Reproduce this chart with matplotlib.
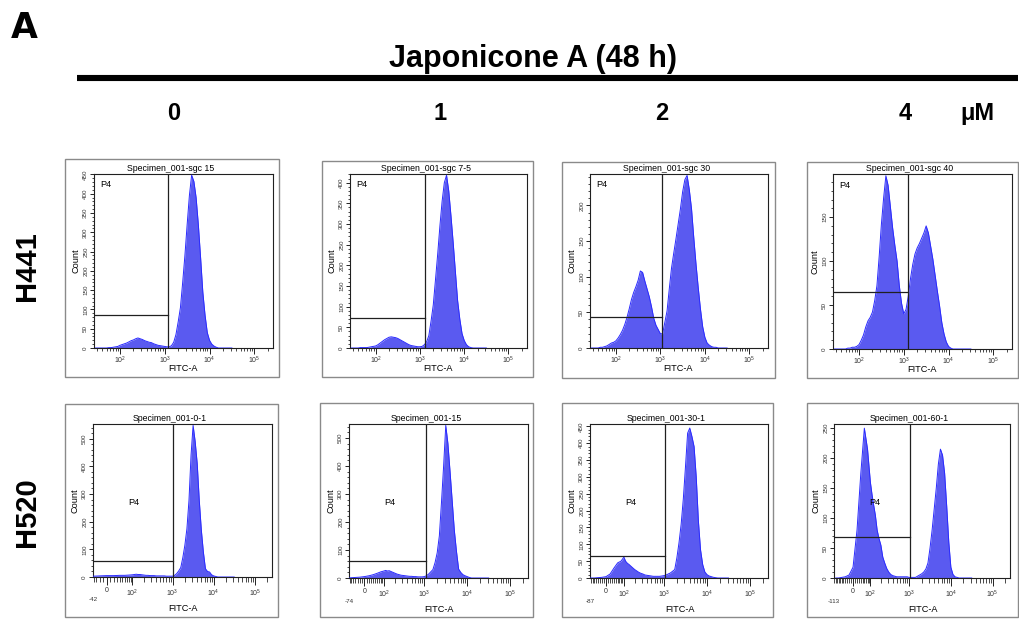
import numpy as np
import matplotlib
matplotlib.use('Agg')
import matplotlib.pyplot as plt
from matplotlib.patches import Rectangle
from matplotlib.lines import Line2D
from matplotlib.ticker import FixedLocator, FixedFormatter, NullFormatter
import matplotlib.transforms as mtransforms

plt.rcParams['font.family'] = ['Liberation Sans', 'DejaVu Sans']
plt.rcParams['mathtext.fontset'] = 'custom'
plt.rcParams['mathtext.rm'] = 'Liberation Sans'
plt.rcParams['mathtext.it'] = 'Liberation Sans'

# ---------------- data ----------------
CONCENTRATIONS = ['0', '1', '2', '4']
CELL_LINES = ['H441', 'H520']
SPECIMENS_H441 = ['Specimen_001-sgc 15', 'Specimen_001-sgc 7-5',
                  'Specimen_001-sgc 30', 'Specimen_001-sgc 40']
SPECIMENS_H520 = ['Specimen_001-0-1', 'Specimen_001-15',
                  'Specimen_001-30-1', 'Specimen_001-60-1']

# channel centres (log10 FITC-A) for the H441 histograms, 1.45 ... 4.50
LOG_BINS_H441 = np.round(np.arange(1.45, 4.501, 0.05), 2)
# channel centres (FITC-A) for the H520 histograms (biexponential display)
FITC_BINS_H520 = [-100, -80, -60, -40, -20, 0, 20, 40, 60, 80] + \
    list(10 ** np.round(np.arange(2.0, 4.501, 0.05), 2))

H441_0 = [0, 0, 0, 0, 0, 0, 1, 1, 2, 3,
          4, 7, 9, 11, 13, 16, 19, 21, 24, 26,
          24, 22, 19, 17, 15, 14, 11, 9, 7, 6,
          5, 4, 3, 3, 6, 15, 35, 68, 105, 170,
          240, 320, 395, 448, 432, 390, 320, 235, 145, 85,
          40, 20, 10, 5, 2, 0, 0, 0, 0, 0, 0, 0]
H441_1 = [0, 0, 0, 0, 1, 1, 1, 1, 2, 3,
          4, 5, 8, 12, 16, 20, 23, 26, 27, 26,
          25, 23, 20, 17, 14, 11, 8, 6, 5, 4,
          3, 3, 4, 8, 15, 30, 65, 104, 165, 227,
          295, 355, 400, 418, 380, 320, 255, 185, 115, 70,
          35, 18, 8, 3, 1, 0, 0, 0, 0, 0, 0, 0]
H441_2 = [0, 0, 0, 0, 1, 1, 2, 3, 5, 7,
          8, 10, 14, 19, 25, 33, 43, 55, 68, 78,
          86, 95, 108, 106, 94, 83, 72, 58, 42, 32,
          26, 20, 20, 36, 52, 83, 112, 133, 153, 174,
          195, 219, 236, 242, 222, 195, 155, 118, 85, 55,
          30, 15, 7, 4, 2, 1, 1, 0, 0, 0, 0, 0]
H441_4 = [0, 0, 0, 0, 0, 0, 1, 1, 2, 2,
          3, 5, 10, 16, 25, 32, 36, 42, 55, 72,
          105, 142, 172, 197, 186, 162, 138, 118, 100, 72,
          52, 40, 45, 60, 80, 96, 108, 115, 120, 126,
          132, 140, 132, 117, 102, 84, 66, 49, 30, 17,
          8, 3, 1, 0, 0, 0, 0, 0, 0, 0, 0, 0]

H520_0 = [0, 0, 2, 3, 4, 5, 5, 6, 6, 7,
          8, 9, 10, 9, 9, 8, 7, 6, 6, 5,
          5, 5, 4, 4, 4, 4, 4, 3, 3, 3,
          3, 6, 12, 22, 34, 70, 115, 175, 277, 440,
          548, 490, 410, 277, 170, 90, 30, 20, 18, 8,
          4, 2, 0, 0, 0, 0, 0, 0, 0, 0, 0]
H520_1 = [0, 0, 1, 2, 3, 5, 8, 12, 17, 22,
          25, 27, 25, 26, 23, 20, 17, 14, 12, 10,
          9, 8, 7, 6, 6, 5, 5, 4, 4, 4,
          5, 8, 14, 22, 30, 55, 90, 150, 270, 400,
          545, 480, 380, 275, 170, 95, 32, 20, 12, 8,
          5, 2, 0, 0, 0, 0, 0, 0, 0, 0, 0]
H520_2 = [0, 0, 0, 1, 2, 4, 12, 30, 45, 50,
          62, 50, 44, 40, 35, 30, 25, 21, 17, 14,
          12, 9, 8, 7, 6, 5, 5, 5, 5, 6,
          7, 9, 12, 15, 20, 25, 60, 105, 160, 235,
          330, 430, 445, 420, 390, 300, 170, 84, 40, 18,
          10, 6, 4, 2, 1, 0, 0, 0, 0, 0, 0]
H520_4 = [0, 0, 1, 2, 5, 18, 80, 175, 250, 215,
          160, 140, 122, 105, 80, 66, 55, 35, 25, 16,
          10, 6, 4, 3, 2, 2, 2, 2, 2, 2,
          1, 1, 1, 1, 3, 5, 7, 10, 15, 25,
          50, 80, 115, 150, 190, 215, 205, 175, 120, 60,
          18, 6, 2, 1, 0, 0, 0, 0, 0, 0, 0]

H441_COUNTS = [H441_0, H441_1, H441_2, H441_4]
H520_COUNTS = [H520_0, H520_1, H520_2, H520_4]

H441_YMAX = [451, 421, 244, 199]
H441_YSTEP = [50, 50, 50, 50]
H441_GATE_X = [1175, 1290, 1100, 1230]
H441_GATE_Y = [85, 73, 43, 65]

H520_YMAX = [553, 550, 457, 257]
H520_YSTEP = [100, 100, 50, 50]
H520_GATE_X = [1000, 1100, 1050, 1050]
H520_GATE_Y = [58, 61, 66, 69]
H520_XMIN = [-42, -74, -87, -113]
XMAX = 262144

# ---------------- layout ----------------
W, H = 1019, 619
fig = plt.figure(figsize=(W / 100, H / 100), dpi=100)

AX_ROW1 = [(94, 174, 273, 348), (350, 174, 527, 348), (590, 174, 768, 348), (833, 174, 1012, 349)]
AX_ROW2 = [(93, 424, 272, 577), (349, 424, 528, 578), (590, 424, 768, 578), (834, 424, 1010, 578)]
FR_ROW1 = [(65, 159, 279, 377), (322, 161, 533, 377), (562, 162, 775, 378), (807, 162, 1018, 378)]
FR_ROW2 = [(65, 404, 278, 617), (320, 403, 533, 617), (562, 403, 773, 617), (807, 403, 1018, 617)]
BIEX_W = [25, 40, 45, 45]

FILL = '#5a5af0'
EDGE = '#2a2aff'
SMALL = 6.3


def add_axes(box):
    l, t, r, b = box
    return fig.add_axes([l / W, 1 - b / H, (r - l) / W, (b - t) / H])


def add_frame(box):
    l, t, r, b = box
    fig.add_artist(Rectangle((l / W, 1 - b / H), (r - l) / W, (b - t) / H,
                             transform=fig.transFigure, fill=False,
                             ec='#8a8a8a', lw=1.0))


def style_common(ax, title, ymax, ystep, gx, gy, xmin_data):
    ax.set_ylim(0, ymax)
    for s in ax.spines.values():
        s.set_linewidth(0.8)
        s.set_color('#202020')
    ax.yaxis.set_major_locator(FixedLocator(np.arange(0, ymax + 1, ystep)))
    ax.yaxis.set_minor_locator(FixedLocator(np.arange(0, ymax + 1, ystep / 5)))
    ax.tick_params(axis='y', which='major', direction='out', length=3.2, width=0.6,
                   labelsize=4.5, labelrotation=90, pad=1, labelcolor='#333333')
    ax.tick_params(axis='y', which='minor', direction='out', length=1.8, width=0.5)
    for lab in ax.get_yticklabels():
        lab.set_va('center')
    # gate P4
    ax.plot([gx, gx], [0, ymax], color='#202020', lw=0.9, zorder=5)
    ax.plot([xmin_data, gx], [gy, gy], color='#202020', lw=0.9, zorder=5)
    ax.text(0.43, 1.008, title, transform=ax.transAxes, ha='center', va='bottom',
            fontsize=SMALL)
    ax.text(-0.10, 0.5, 'Count', transform=ax.transAxes, rotation=90,
            ha='center', va='center', fontsize=6.6)


# ---- row 1 : H441, log axis ----
for k in range(4):
    add_frame(FR_ROW1[k])
    ax = add_axes(AX_ROW1[k])
    x = 10 ** LOG_BINS_H441
    y = np.array(H441_COUNTS[k], dtype=float)
    ax.fill_between(x, 0, y, color=FILL, lw=0, zorder=2)
    ax.plot(x, y, color=EDGE, lw=0.7, zorder=3)
    ax.set_xscale('log')
    ax.set_xlim(26.2, XMAX)
    ax.xaxis.set_major_locator(FixedLocator([1e2, 1e3, 1e4, 1e5]))
    ax.xaxis.set_major_formatter(FixedFormatter(['$10^2$', '$10^3$', '$10^4$', '$10^5$']))
    minors = [m * 10 ** e for e in (1, 2, 3, 4) for m in range(2, 10) if m * 10 ** e >= 30] + [2e5]
    ax.xaxis.set_minor_locator(FixedLocator(minors))
    ax.xaxis.set_minor_formatter(NullFormatter())
    ax.tick_params(axis='x', which='major', direction='out', length=4, width=0.6,
                   labelsize=5, pad=1, labelcolor='#333333')
    ax.tick_params(axis='x', which='minor', direction='out', length=2.5, width=0.5)
    style_common(ax, SPECIMENS_H441[k], H441_YMAX[k], H441_YSTEP[k],
                 H441_GATE_X[k], H441_GATE_Y[k], 26.2)
    ax.text(0.035, 0.937, 'P4', transform=ax.transAxes, ha='left', va='center',
            fontsize=6.6)
    ax.text(0.497, -0.115, 'FITC-A', transform=ax.transAxes, ha='center',
            va='center', fontsize=6.6)


# ---- row 2 : H520, biexponential axis ----
def biex(c):
    def fwd(v):
        return np.arcsinh(np.asarray(v, dtype=float) / (2 * c)) / np.log(10)

    def inv(u):
        return 2 * c * np.sinh(np.asarray(u, dtype=float) * np.log(10))
    return fwd, inv


for k in range(4):
    add_frame(FR_ROW2[k])
    ax = add_axes(AX_ROW2[k])
    x = np.array(FITC_BINS_H520, dtype=float)
    y = np.array(H520_COUNTS[k], dtype=float)
    ax.set_xscale('function', functions=biex(BIEX_W[k]))
    xmin = H520_XMIN[k]
    ax.fill_between(x, 0, y, color=FILL, lw=0, zorder=2)
    ax.plot(x, y, color=EDGE, lw=0.7, zorder=3)
    ax.set_xlim(xmin, XMAX)
    ax.xaxis.set_major_locator(FixedLocator([0, 1e2, 1e3, 1e4, 1e5]))
    ax.xaxis.set_major_formatter(FixedFormatter(['0', '$10^2$', '$10^3$', '$10^4$', '$10^5$']))
    lin = [v for v in range(-110, 100, 10) if v != 0 and v > xmin]
    logs = [m * 10 ** e for e in (2, 3, 4) for m in range(2, 10)] + [2e5]
    ax.xaxis.set_minor_locator(FixedLocator(lin + logs))
    ax.xaxis.set_minor_formatter(NullFormatter())
    ax.tick_params(axis='x', which='major', direction='out', length=6, width=0.6,
                   labelsize=5, pad=1.5, labelcolor='#333333')
    ax.tick_params(axis='x', which='minor', direction='out', length=3.5, width=0.5)
    style_common(ax, SPECIMENS_H520[k], H520_YMAX[k], H520_YSTEP[k],
                 H520_GATE_X[k], H520_GATE_Y[k], xmin)
    trans = mtransforms.blended_transform_factory(ax.transData, ax.transAxes)
    ax.text(xmin, -0.15, str(xmin), transform=trans, ha='center', va='center',
            fontsize=4.5, color='#333333')
    ax.text(0.23, 0.49, 'P4', transform=ax.transAxes, ha='center', va='center',
            fontsize=6.6, zorder=6)
    ax.text(0.503, -0.203, 'FITC-A', transform=ax.transAxes, ha='center',
            va='center', fontsize=6.6)

# ---------------- header ----------------
fig.text(11 / W, 1 - 38 / H, 'A', fontsize=25, fontweight='heavy', ha='left',
         va='baseline', family=['DejaVu Sans'])
fig.text(533 / W, 1 - 59 / H, 'Japonicone A (48 h)', fontsize=22, fontweight='bold',
         ha='center', va='center')
fig.add_artist(Line2D([77 / W, 1018 / W], [1 - 78 / H, 1 - 78 / H], lw=4.4,
                      color='black', transform=fig.transFigure,
                      solid_capstyle='butt'))
COL_X = [174, 440, 662, 905]
for lab, cx in zip(CONCENTRATIONS, COL_X):
    fig.text(cx / W, 1 - 120 / H, lab, fontsize=17, fontweight='bold',
             ha='center', va='baseline')
fig.text(977 / W, 1 - 120 / H, 'μM', fontsize=17, fontweight='bold',
         ha='center', va='baseline')
ROW_Y = [266, 512]
for lab, cy in zip(CELL_LINES, ROW_Y):
    fig.text(27 / W, 1 - cy / H, lab, fontsize=21, fontweight='bold', rotation=90,
             ha='center', va='center')

fig.savefig('out.png', dpi=100)
